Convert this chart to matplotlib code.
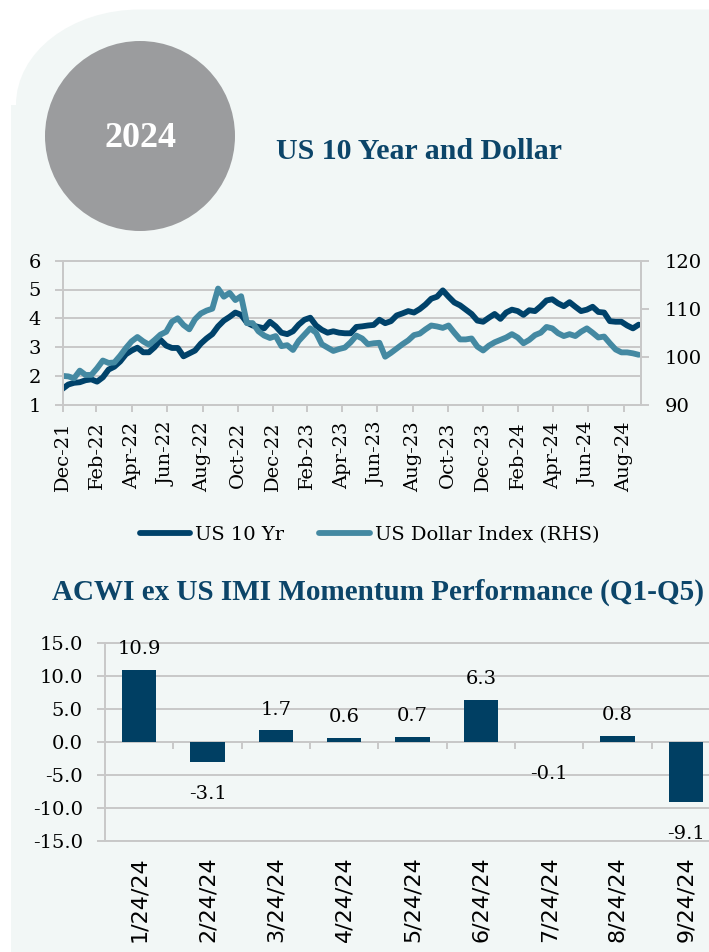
import numpy as np
import pandas as pd
import matplotlib
matplotlib.use('Agg')
import matplotlib.pyplot as plt
from matplotlib.patches import PathPatch, Circle
from matplotlib.path import Path

# ----------------------------------------------------------------------
# --- dados (um ponto a cada 10 dias, desde 31/12/21) ---
# ----------------------------------------------------------------------
us_10yr = [1.55, 1.70, 1.76, 1.78, 1.85, 1.88, 1.80, 1.95, 2.22, 2.32,
           2.50, 2.75, 2.88, 2.98, 2.82, 2.82, 3.00, 3.25, 3.05, 2.97,
           2.97, 2.68, 2.78, 2.88, 3.12, 3.30, 3.45, 3.72, 3.92, 4.05,
           4.20, 4.12, 3.85, 3.75, 3.70, 3.65, 3.88, 3.72, 3.50, 3.45,
           3.55, 3.78, 3.95, 4.02, 3.75, 3.60, 3.50, 3.55, 3.50, 3.48,
           3.48, 3.70, 3.72, 3.75, 3.77, 3.95, 3.83, 3.90, 4.10, 4.17,
           4.25, 4.20, 4.32, 4.48, 4.68, 4.75, 4.97, 4.75, 4.55, 4.45,
           4.30, 4.15, 3.92, 3.88, 4.02, 4.15, 3.98, 4.20, 4.30, 4.25,
           4.12, 4.28, 4.25, 4.42, 4.62, 4.66, 4.52, 4.42, 4.56, 4.40,
           4.25, 4.30, 4.40, 4.22, 4.20, 3.90, 3.88, 3.88, 3.75, 3.65,
           3.78]

dollar_index = [96.0, 95.9, 95.5, 97.1, 96.2, 96.2, 97.6, 99.2, 98.7, 98.8,
                100.2, 101.8, 103.2, 104.1, 103.2, 102.5, 103.5, 104.6, 105.2, 107.3,
                108.0, 106.6, 105.7, 107.8, 109.0, 109.6, 110.0, 114.2, 112.5, 113.3,
                111.8, 112.6, 107.0, 107.0, 105.3, 104.4, 103.9, 104.3, 102.2, 102.4,
                101.4, 103.3, 104.6, 105.9, 105.0, 102.6, 101.9, 101.2, 101.6, 101.9,
                103.0, 104.4, 103.8, 102.6, 102.8, 102.9, 100.0, 100.8, 101.7, 102.6,
                103.4, 104.5, 104.8, 105.7, 106.5, 106.3, 106.0, 106.5, 105.0, 103.6,
                103.6, 103.8, 102.1, 101.3, 102.3, 103.0, 103.5, 104.0, 104.7, 104.0,
                102.8, 103.5, 104.5, 105.0, 106.2, 105.9, 104.9, 104.3, 104.7, 104.3,
                105.2, 105.9, 105.0, 104.0, 104.2, 102.8, 101.5, 100.9, 100.9, 100.7,
                100.4]

rotulos_datas = ['Dec-21', 'Feb-22', 'Apr-22', 'Jun-22', 'Aug-22', 'Oct-22',
                 'Dec-22', 'Feb-23', 'Apr-23', 'Jun-23', 'Aug-23', 'Oct-23',
                 'Dec-23', 'Feb-24', 'Apr-24', 'Jun-24', 'Aug-24']

meses = ['1/24/24', '2/24/24', '3/24/24', '4/24/24', '5/24/24',
         '6/24/24', '7/24/24', '8/24/24', '9/24/24']
momentum = [10.9, -3.1, 1.7, 0.6, 0.7, 6.3, -0.1, 0.8, -9.1]

# cores
AZUL_ESCURO = '#00426A'
AZUL_CLARO = '#4489A2'
TITULO = '#0C4569'
CINZA = '#C8C8C8'
FUNDO = '#F2F7F6'

W, H = 709, 952
plt.rcParams['font.family'] = ['DejaVu Serif']

fig = plt.figure(figsize=(W / 100, H / 100), dpi=100, facecolor='white')

def fx(x):
    return x / W

def fy(y):
    return 1 - y / H

# --- painel de fundo com canto arredondado ---
verts = [(11, 952), (11, 105), (16, 105), (16, 52), (71.5, 9.5), (140, 9.5),
         (720, 9.5), (720, 952), (11, 952)]
codes = [Path.MOVETO, Path.LINETO, Path.LINETO, Path.CURVE4, Path.CURVE4,
         Path.CURVE4, Path.LINETO, Path.LINETO, Path.CLOSEPOLY]
verts = [(x / 100, (H - y) / 100) for x, y in verts]
painel = PathPatch(Path(verts, codes), facecolor=FUNDO, edgecolor='none',
                   transform=fig.dpi_scale_trans, zorder=-10)
fig.add_artist(painel)

circulo = Circle((1.40, (H - 136) / 100), 0.95, facecolor='#9B9C9E',
                 edgecolor='none', transform=fig.dpi_scale_trans, zorder=-9)
fig.add_artist(circulo)
fig.text(fx(140), fy(147), '2024', color='white', fontsize=26, fontweight='bold',
         family='Liberation Serif', ha='center', va='baseline')

fig.text(fx(276), fy(159), 'US 10 Year and Dollar', color=TITULO, fontsize=21.5,
         fontweight='bold', family='Liberation Serif', ha='left', va='baseline')
fig.text(fx(52), fy(600), 'ACWI ex US IMI Momentum Performance (Q1-Q5)', color=TITULO,
         fontsize=21, fontweight='bold', family='Liberation Serif', ha='left', va='baseline')

# ----------------------------------------------------------------------
# --- grafico de linhas ---
# ----------------------------------------------------------------------
datas = pd.date_range('2021-12-31', periods=len(us_10yr), freq='10D')
ticks_datas = pd.to_datetime(rotulos_datas, format='%b-%y') + pd.offsets.MonthEnd(0)

ax1 = fig.add_axes([fx(62.5), fy(404.7), fx(641) - fx(62.5), (404.7 - 260.7) / H])
ax1.set_facecolor('none')
l1, = ax1.plot(datas, us_10yr, color=AZUL_ESCURO, lw=4.2, solid_joinstyle='round',
               solid_capstyle='round', label='US 10 Yr')
ax1.set_ylim(1, 6)
ax1.set_yticks(range(1, 7))
ax1.set_xlim(datas[0], pd.Timestamp('2024-09-30'))
ax1.set_xticks(ticks_datas)
ax1.set_xticklabels(rotulos_datas, rotation=90)
ax1.yaxis.grid(True, color=CINZA, lw=1.4)
ax1.set_axisbelow(True)
ax1.tick_params(axis='y', direction='out', length=5.5, width=1.4, color=CINZA,
                pad=10, labelsize=14)
ax1.tick_params(axis='x', direction='out', length=5, width=1.4, color=CINZA,
                pad=7, labelsize=14)

ax2 = ax1.twinx()
l2, = ax2.plot(datas, dollar_index, color=AZUL_CLARO, lw=4.2, solid_joinstyle='round',
               solid_capstyle='round', label='US Dollar Index (RHS)')
ax2.set_ylim(90, 120)
ax2.set_yticks([90, 100, 110, 120])
ax2.tick_params(axis='y', direction='out', length=6, width=1.4, color=CINZA,
                pad=11, labelsize=14)

for ax in (ax1, ax2):
    for s in ax.spines.values():
        s.set_color(CINZA)
        s.set_linewidth(1.4)

fig.legend([l1, l2], ['US 10 Yr', 'US Dollar Index (RHS)'], loc='center',
           bbox_to_anchor=(fx(369.5), fy(535)), ncol=2, frameon=False, fontsize=14,
           handlelength=2.6, handletextpad=0.25, columnspacing=1.8)

# ----------------------------------------------------------------------
# --- grafico de barras ---
# ----------------------------------------------------------------------
axb = fig.add_axes([fx(105), fy(840.7), 615 / W, 198 / H])
axb.set_facecolor('none')
x = np.arange(len(meses))
axb.bar(x, momentum, width=0.5, color='#003F63', zorder=3)
axb.set_xlim(-0.5, len(meses) - 0.5)
axb.set_ylim(-15, 15)
axb.set_yticks(np.arange(-15, 16, 5))
axb.set_yticklabels([f'{v:.1f}' for v in np.arange(-15, 16, 5)])
axb.yaxis.grid(True, color=CINZA, lw=1.4)
axb.set_axisbelow(True)
axb.set_xticks(x)
axb.set_xticklabels(meses, rotation=90, family='DejaVu Sans', fontsize=16)
axb.tick_params(axis='x', length=0, pad=11)
axb.tick_params(axis='y', direction='out', length=6, width=1.4, color=CINZA,
                pad=10, labelsize=14)
for s in axb.spines.values():
    s.set_color(CINZA)
    s.set_linewidth(1.4)

# eixo do zero com marcas entre categorias
eixo_zero = axb.secondary_xaxis(0.5)
eixo_zero.set_xticks(x[:-1] + 0.5)
eixo_zero.tick_params(direction='in', length=5, width=1.4, color=CINZA,
                      labeltop=False, labelbottom=False)
for s in eixo_zero.spines.values():
    s.set_color(CINZA)
    s.set_linewidth(1.4)

for i, v in enumerate(momentum):
    desloc = 11.5 if v >= 0 else -26.5
    axb.annotate(f'{v:.1f}', (i, v), xytext=(0, desloc), textcoords='offset points',
                 ha='center', va='baseline', fontsize=14)

plt.savefig('out.png', dpi=100)
